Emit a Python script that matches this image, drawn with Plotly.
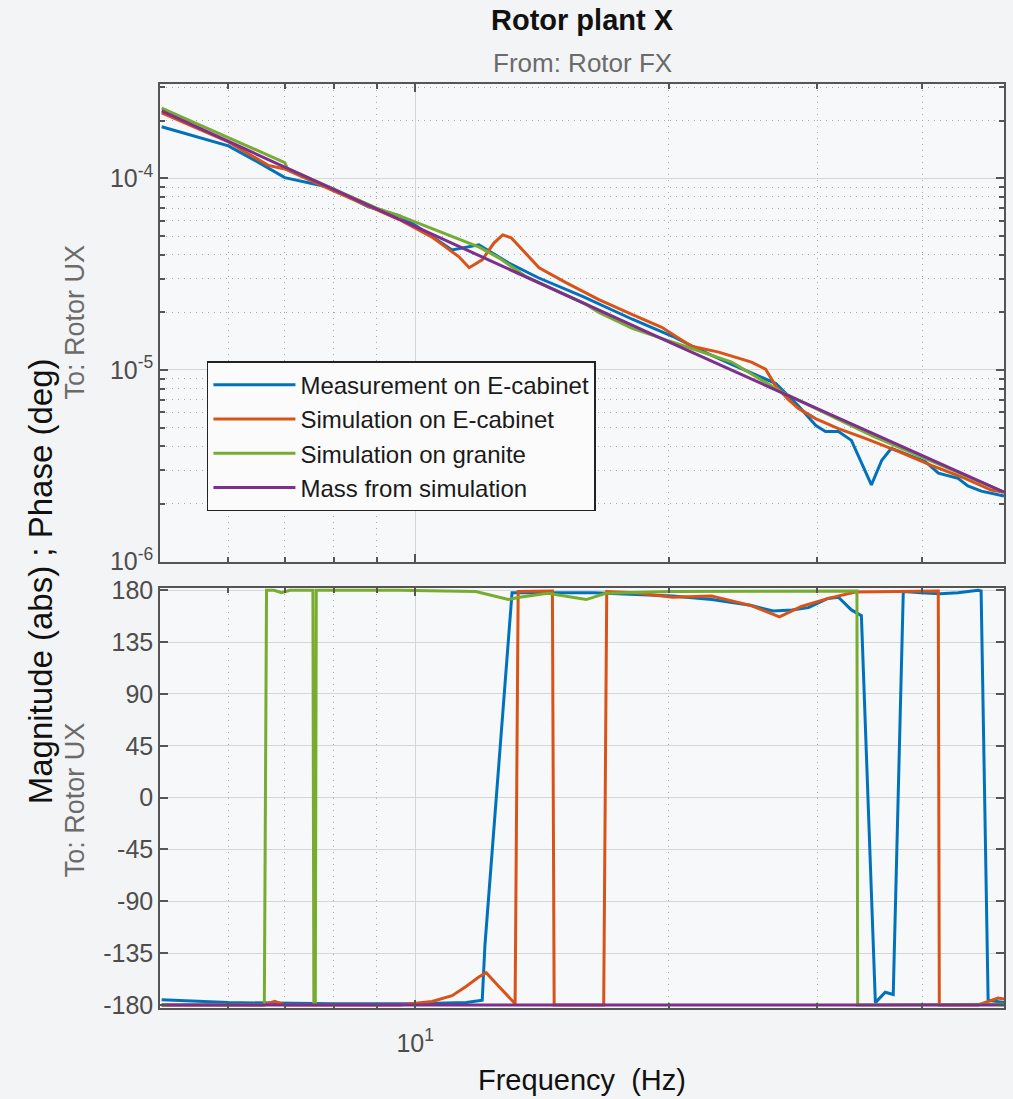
import plotly.graph_objects as go

# ---------------- data ----------------
series_names = ["Measurement on E-cabinet", "Simulation on E-cabinet",
                "Simulation on granite", "Mass from simulation"]
series_colors = ["#0072BD", "#D95319", "#77AC30", "#7E2F8E"]

# Magnitude (abs)
meas_mag_f = [5.0, 6.0, 6.5, 7.0, 7.9, 8.8, 9.57, 10.0, 11.06, 11.9, 12.9, 14.0, 15.8, 18.1,
              20.2, 21.7, 23.75, 26.8, 28.5, 29.9, 30.7, 31.8, 32.95, 34.8, 35.8, 36.75,
              40.3, 41.8, 44.1, 45.3, 47.0, 49.6, 50.0]
meas_mag = [1.86e-4, 1.48e-4, 1.22e-4, 1.01e-4, 9.0e-5, 7.1e-5, 6.4e-5, 5.7e-5, 4.23e-5, 4.5e-5,
            3.63e-5, 3.03e-5, 2.42e-5, 1.84e-5, 1.50e-5, 1.28e-5, 1.07e-5, 8.5e-6, 6.5e-6,
            5.13e-6, 4.77e-6, 4.77e-6, 4.29e-6, 2.51e-6, 3.38e-6, 3.9e-6, 3.33e-6, 2.89e-6,
            2.72e-6, 2.48e-6, 2.33e-6, 2.22e-6, 2.2e-6]

sim_cab_mag_f = [5.0, 6.0, 6.69, 7.0, 8.0, 9.57, 10.47, 11.27, 11.59, 12.01, 12.4, 12.7, 13.0,
                 13.5, 14.03, 15.10, 16.52, 18.08, 19.62, 20.38, 21.29, 22.92, 25.07, 26.06,
                 26.78, 27.74, 28.51, 29.87, 31.80, 34.22, 37.46, 40.99, 44.96, 48.28, 50.0]
sim_cab_mag = [2.2e-4, 1.55e-4, 1.17e-4, 1.12e-4, 8.6e-5, 6.1e-5, 4.94e-5, 3.9e-5, 3.42e-5,
               3.76e-5, 4.6e-5, 5.07e-5, 4.9e-5, 4.1e-5, 3.42e-5, 2.86e-5, 2.33e-5, 1.95e-5,
               1.67e-5, 1.50e-5, 1.33e-5, 1.24e-5, 1.10e-5, 1.01e-5, 8.26e-6, 7.0e-6, 6.3e-6,
               5.57e-6, 4.94e-6, 4.39e-6, 3.76e-6, 3.18e-6, 2.72e-6, 2.36e-6, 2.3e-6]

sim_gran_mag_f = [5.0, 7.0, 7.05, 8.0, 9.0, 9.57, 11.91, 12.57, 13.54, 15.95, 16.52, 18.1,
                  23.75, 27.2, 35.0, 50.0]
sim_gran_mag = [2.33e-4, 1.21e-4, 1.13e-4, 8.8e-5, 7.0e-5, 6.4e-5, 4.38e-5, 3.85e-5, 3.07e-5,
                2.2e-5, 2.0e-5, 1.65e-5, 1.10e-5, 7.69e-6, 4.5e-6, 2.3e-6]

mass_mag_f = [5.0, 10.0, 20.0, 50.0]
mass_mag = [2.25e-4, 5.6e-5, 1.4e-5, 2.3e-6]

# Phase (deg)
meas_ph_f = [5.0, 6.0, 8.0, 10.0, 11.5, 12.01, 12.1, 13.03, 14.0, 16.3, 20.2, 22.5, 25.0,
             26.6, 28.0, 29.3, 30.9, 31.8, 32.95, 33.86, 35.18, 36.14, 36.94, 37.97, 39.87,
             42.0, 44.1, 46.58, 46.97, 47.88, 50.0]
meas_ph = [-175.5, -178, -179, -179, -178, -176, -128, 178, 178, 178, 175, 172, 167,
           162, 163, 165, 173, 174, 163, 158, -178, -169, -171, 179, 178,
           177, 178, 180, 179.5, -176, -178]

sim_cab_ph_f = [5.0, 6.6, 6.81, 7.0, 9.57, 10.47, 11.06, 11.49, 11.91, 12.14, 12.57, 13.14,
                13.25, 13.84, 14.55, 14.62, 16.74, 16.88, 18.18, 20.22, 22.48, 25.0, 27.07,
                28.74, 30.94, 33.31, 41.78, 41.9, 46.58, 49.2, 50.0]
sim_cab_ph = [-180, -180, -177, -180, -180, -177, -172, -164, -155.5, -152, -164, -179,
              179, 179.5, 179.5, -180, -180, 179, 178, 174, 175, 167, 157,
              166, 173, 178.5, 179.5, -180, -180, -174, -175]

sim_gran_ph_f = [5.0, 6.62, 6.66, 6.8, 6.94, 7.1, 7.56, 7.58, 7.61, 7.63, 9.57, 11.8, 12.9,
                 13.3, 14.36, 15.96, 16.84, 20.2, 33.45, 33.52, 50.0]
sim_gran_ph = [-180, -180, 180, 180, 178, 180, 180, -180, -180, 180, 180, 179, 172,
               174, 177.5, 172, 177.5, 179, 179.5, -180, -179.5]

mass_ph_f = [5.0, 50.0]
mass_ph = [-180, -180]

mag_tickvals = [1e-6, 1e-5, 1e-4]
mag_ticktext = ["10<sup>-6</sup>", "10<sup>-5</sup>", "10<sup>-4</sup>"]
mag_minor = [k * 1e-6 for k in range(2, 10)] + [k * 1e-5 for k in range(2, 10)] + [2e-4, 3e-4]
ph_tickvals = [-180, -135, -90, -45, 0, 45, 90, 135, 180]
ph_ticktext = ["-180", "-135", "-90", "-45", "0", "45", "90", "135", "180"]
freq_tickvals = [10]
freq_ticktext = ["10<sup>1</sup>"]
freq_minor = [6, 7, 8, 9, 20, 30, 40]

mag_data = [(meas_mag_f, meas_mag), (sim_cab_mag_f, sim_cab_mag),
            (sim_gran_mag_f, sim_gran_mag), (mass_mag_f, mass_mag)]
ph_data = [(meas_ph_f, meas_ph), (sim_cab_ph_f, sim_cab_ph),
           (sim_gran_ph_f, sim_gran_ph), (mass_ph_f, mass_ph)]

# ---------------- figure ----------------
FONT = "Liberation Sans, Arial, Helvetica, sans-serif"
fig = go.Figure()

for name, color, (fx, fy) in zip(series_names, series_colors, mag_data):
    fig.add_trace(go.Scatter(x=fx, y=fy, xaxis="x", yaxis="y", mode="lines",
                             line=dict(color=color, width=3), name=name,
                             legendgroup=name))
for name, color, (fx, fy) in zip(series_names, series_colors, ph_data):
    fig.add_trace(go.Scatter(x=fx, y=fy, xaxis="x2", yaxis="y2", mode="lines",
                             line=dict(color=color, width=3), name=name,
                             legendgroup=name, showlegend=False))

axis_common = dict(showline=True, linecolor="#555555", linewidth=1.5, mirror="ticks",
                   ticks="inside", tickcolor="#555555", tickwidth=1.5,
                   gridcolor="#d6d6d6", gridwidth=1, zeroline=False,
                   tickfont=dict(family=FONT, size=25, color="#4d4d4d"))

x_common = dict(axis_common, type="log", range=[0.697, 1.699], tickmode="array",
                tickvals=freq_tickvals, ticktext=freq_ticktext, ticklen=8, showgrid=True,
                minor=dict(tickmode="array", tickvals=freq_minor, ticks="inside", ticklen=5,
                           tickcolor="#555555", showgrid=True, griddash="1px,5px",
                           gridcolor="#a8a8a8", gridwidth=1))

fig.update_layout(
    width=1013, height=1099, autosize=False,
    margin=dict(l=160, r=7, t=84, b=91),
    paper_bgcolor="#f3f4f5", plot_bgcolor="#f7f8f9",
    font=dict(family=FONT, color="#222222"),
    xaxis=dict(x_common, anchor="y", domain=[0, 1], showticklabels=False),
    xaxis2=dict(x_common, anchor="y2", domain=[0, 1], showticklabels=True,
                ticklabelstandoff=12),
    yaxis=dict(axis_common, type="log", domain=[0.4832, 1], range=[-6, -3.507],
               tickmode="array", tickvals=mag_tickvals, ticktext=mag_ticktext, ticklen=8,
               showgrid=True,
               minor=dict(tickmode="array", tickvals=mag_minor, ticks="inside", ticklen=5,
                          tickcolor="#555555", showgrid=True, griddash="1px,5px",
                          gridcolor="#a8a8a8", gridwidth=1)),
    yaxis2=dict(axis_common, domain=[0, 0.4545], range=[-182.7, 182], tickmode="array",
                tickvals=ph_tickvals, ticktext=ph_ticktext, ticklen=8, showgrid=True),
    showlegend=True,
    legend=dict(x=0.0556, y=0.700, xanchor="left", yanchor="top",
                bgcolor="#fbfbfb", bordercolor="#222222", borderwidth=1.5,
                font=dict(family=FONT, size=24, color="#1a1a1a"),
                itemwidth=82, tracegroupgap=0, traceorder="normal"),
)

annotations = [
    dict(text="<b>Rotor plant X</b>", x=0.5, y=1.069, xref="paper", yref="paper",
         showarrow=False, font=dict(family=FONT, size=29, color="#111111"),
         xanchor="center", yanchor="middle"),
    dict(text="From: Rotor FX", x=0.5, y=1.0227, xref="paper", yref="paper",
         showarrow=False, font=dict(family=FONT, size=26, color="#6b6b6b"),
         xanchor="center", yanchor="middle"),
    dict(text="Magnitude (abs) ; Phase (deg)", x=-0.142, y=0.462, xref="paper",
         yref="paper", showarrow=False, textangle=-90,
         font=dict(family=FONT, size=33, color="#111111"),
         xanchor="center", yanchor="middle"),
    dict(text="To: Rotor UX", x=-0.1005, y=0.742, xref="paper", yref="paper",
         showarrow=False, textangle=-90, font=dict(family=FONT, size=27, color="#6b6b6b"),
         xanchor="center", yanchor="middle"),
    dict(text="To: Rotor UX", x=-0.1005, y=0.225, xref="paper", yref="paper",
         showarrow=False, textangle=-90, font=dict(family=FONT, size=27, color="#6b6b6b"),
         xanchor="center", yanchor="middle"),
    dict(text="Frequency  (Hz)", x=0.5, y=-0.078, xref="paper", yref="paper",
         showarrow=False, font=dict(family=FONT, size=29, color="#111111"),
         xanchor="center", yanchor="middle"),
]
fig.update_layout(annotations=annotations)

fig.write_html("out.html", config={"displayModeBar": False},
               post_script="document.body.style.margin='0px';")
